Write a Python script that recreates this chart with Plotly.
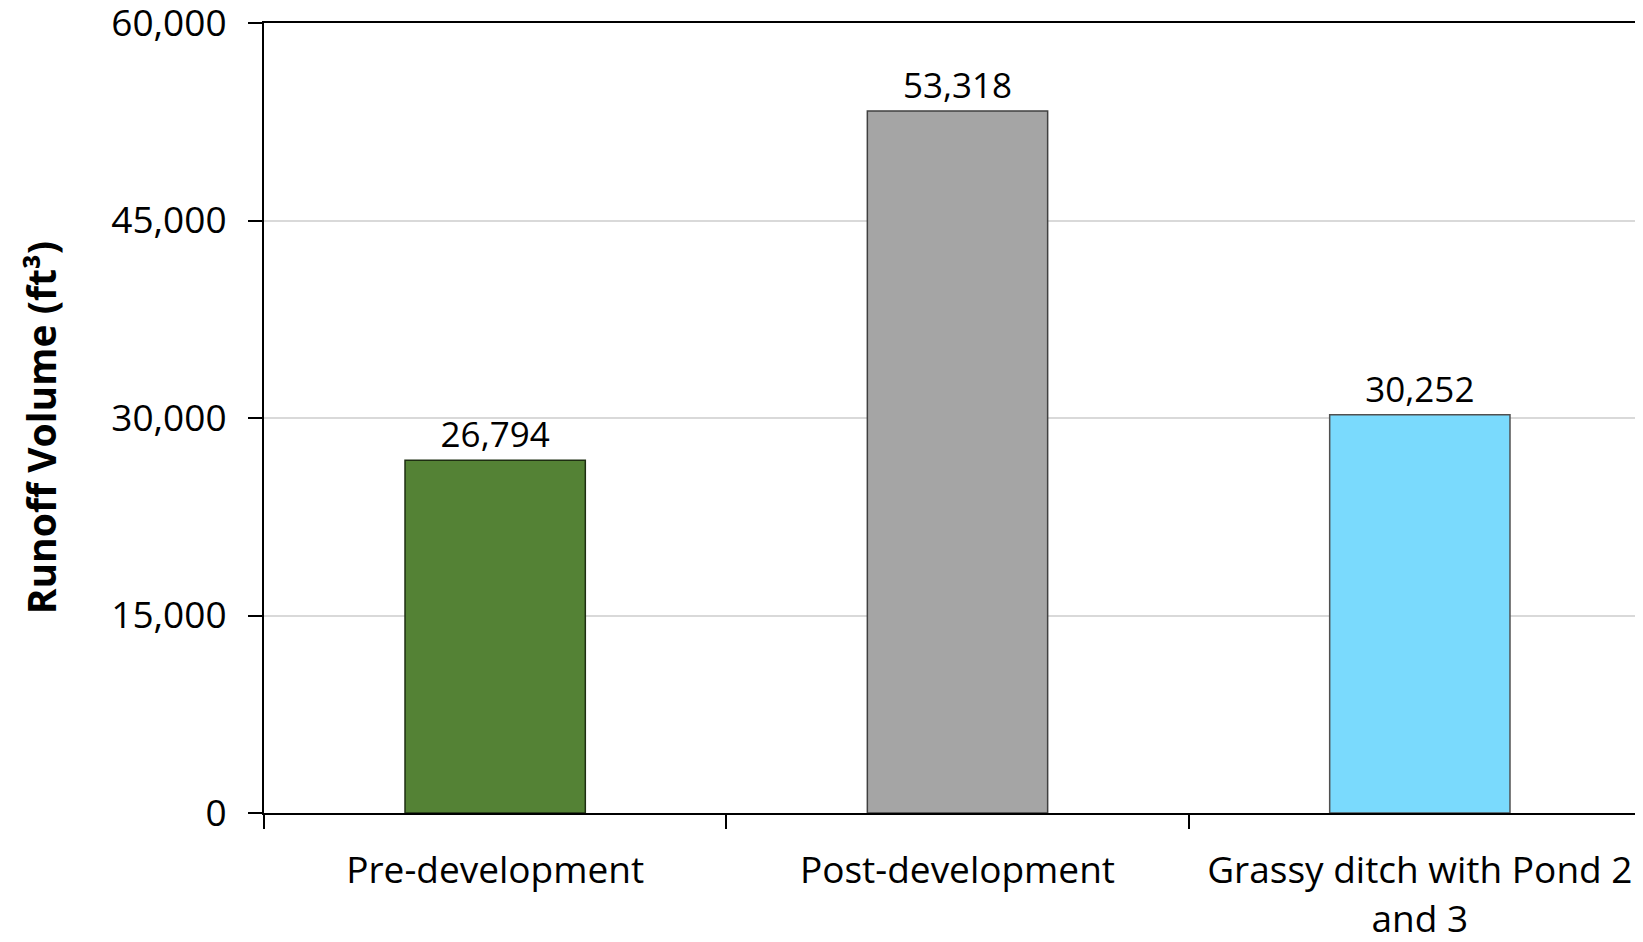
import plotly.graph_objects as go

categories = ["Pre-development", "Post-development", "Grassy ditch with Pond 2<br>and 3"]
values = [26794, 53318, 30252]
value_labels = ["26,794", "53,318", "30,252"]
bar_colors = ["#548235", "#A5A5A5", "#7ADAFD"]
border_colors = ["#1E2E12", "#404040", "#505050"]
y_ticks = [0, 15000, 30000, 45000, 60000]
y_tick_labels = ["0", "15,000", "30,000", "45,000", "60,000"]
y_title = "<b>Runoff Volume (ft³)</b>"

FONT = "Open Sans"

fig = go.Figure(
    go.Bar(
        x=categories,
        y=values,
        text=value_labels,
        textposition="outside",
        textfont=dict(family=FONT, size=35, color="black"),
        cliponaxis=False,
        marker=dict(color=bar_colors, line=dict(color=border_colors, width=1.5)),
        width=0.39,
    )
)

fig.update_layout(
    width=1643,
    height=942,
    margin=dict(l=256, r=0, t=15, b=137),
    plot_bgcolor="white",
    paper_bgcolor="white",
    showlegend=False,
    font=dict(family=FONT, color="black"),
)

fig.add_annotation(
    text=y_title,
    xref="paper",
    yref="paper",
    x=0,
    y=0.487,
    xanchor="center",
    yanchor="middle",
    xshift=-224,
    textangle=-90,
    showarrow=False,
    font=dict(family=FONT, size=39, color="black"),
)

fig.update_xaxes(
    range=[-0.5, 2.5],
    automargin=False,
    showline=True,
    linecolor="black",
    linewidth=2,
    mirror=True,
    ticks="outside",
    tickson="boundaries",
    ticklen=14,
    tickwidth=2,
    tickcolor="black",
    ticklabelstandoff=24,
    tickfont=dict(family=FONT, size=37, color="black"),
    showgrid=False,
)

fig.update_yaxes(
    range=[0, 60000],
    automargin=False,
    tickvals=y_ticks,
    ticktext=y_tick_labels,
    ticklabeloverflow="allow",
    showline=True,
    linecolor="black",
    linewidth=2,
    ticks="outside",
    ticklen=14,
    tickwidth=2,
    tickcolor="black",
    ticklabelstandoff=14,
    tickfont=dict(family=FONT, size=37, color="black"),
    showgrid=True,
    gridcolor="#D9D9D9",
    gridwidth=1.5,
    zeroline=False,
)

fig.write_html("out.html")
